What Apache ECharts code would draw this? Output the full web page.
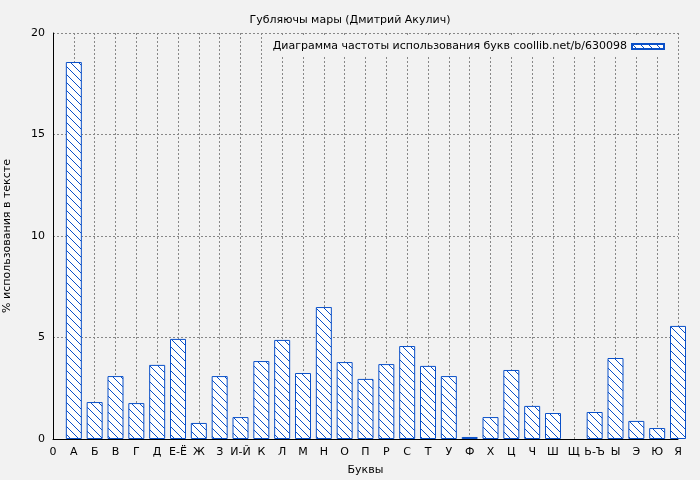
<!DOCTYPE html>
<html>
<head>
<meta charset="utf-8">
<script src="https://cdn.jsdelivr.net/npm/echarts@6/dist/echarts.min.js"></script>
<style>html,body{margin:0;padding:0;background:#f2f2f2;}#chart{width:700px;height:480px;}</style>
</head>
<body>
<div id="chart"></div>
<script>
const letters = ["0", "А", "Б", "В", "Г", "Д", "Е-Ё", "Ж", "З", "И-Й", "К", "Л", "М", "Н", "О", "П",
  "Р", "С", "Т", "У", "Ф", "Х", "Ц", "Ч", "Ш", "Щ", "Ь-Ъ", "Ы", "Э", "Ю", "Я"];
const freq = [null, 18.57, 1.82, 3.1, 1.77, 3.65, 4.93, 0.79, 3.1, 1.08, 3.84, 4.88, 3.25, 6.5, 3.79, 2.96,
  3.69, 4.58, 3.6, 3.1, 0.1, 1.08, 3.4, 1.63, 1.28, null, 1.33, 3.99, 0.89, 0.54, 5.57];
const yTicks = [0, 5, 10, 15, 20];

// штриховка "\\\"
const pat = document.createElement("canvas");
pat.width = 8; pat.height = 8;
const ctx = pat.getContext("2d");
ctx.fillStyle = "#ffffff";
ctx.fillRect(0, 0, 8, 8);
ctx.strokeStyle = "#0a50c8";
ctx.lineWidth = 1;
ctx.beginPath();
ctx.moveTo(0, 0); ctx.lineTo(8, 8);
ctx.moveTo(-4, 4); ctx.lineTo(4, 12);
ctx.moveTo(4, -4); ctx.lineTo(12, 4);
ctx.stroke();

const chart = echarts.init(document.getElementById("chart"));
chart.setOption({
  backgroundColor: "#f2f2f2",
  animation: false,
  title: {
    text: "Губляючы мары (Дмитрий Акулич)",
    left: "center", top: 10,
    textStyle: { fontSize: 11, fontWeight: "normal", color: "#000", fontFamily: "DejaVu Sans" },
  },
  legend: {
    top: 36, right: 30,
    icon: "rect",
    itemWidth: 32, itemHeight: 5,
    align: "right",
    backgroundColor: "#f2f2f2",
    textStyle: { fontSize: 11, color: "#000", fontFamily: "DejaVu Sans" },
    data: ["Диаграмма частоты использования букв coollib.net/b/630098"],
  },
  grid: { left: 53, right: 22, top: 33, bottom: 41, containLabel: false, outerBoundsMode: "none" },
  xAxis: {
    type: "category",
    data: letters,
    boundaryGap: false,
    name: "Буквы", nameLocation: "middle", nameGap: 26,
    nameTextStyle: { fontSize: 11, color: "#000", fontFamily: "DejaVu Sans" },
    axisLine: { lineStyle: { color: "#000" } },
    axisTick: { show: false },
    axisLabel: { fontSize: 11, color: "#000", fontFamily: "DejaVu Sans", interval: 0 },
    splitLine: { show: true, interval: 0, lineStyle: { color: "#888", type: [2, 2] } },
  },
  yAxis: {
    type: "value",
    min: 0, max: 20, interval: 5,
    name: "% использования в тексте", nameLocation: "middle", nameGap: 40,
    nameTextStyle: { fontSize: 11, color: "#000", fontFamily: "DejaVu Sans" },
    axisLine: { show: true, lineStyle: { color: "#000" } },
    axisTick: { show: false },
    axisLabel: { fontSize: 11, color: "#000", fontFamily: "DejaVu Sans",
      formatter: v => yTicks.includes(v) ? String(v) : "" },
    splitLine: { show: true, lineStyle: { color: "#888", type: [2, 2] } },
  },
  series: [{
    name: "Диаграмма частоты использования букв coollib.net/b/630098",
    type: "bar",
    data: freq,
    barWidth: 16,
    clip: true,
    itemStyle: { color: { image: pat, repeat: "repeat" }, borderColor: "#0a50c8", borderWidth: 1 },
  }],
});
</script>
</body>
</html>
